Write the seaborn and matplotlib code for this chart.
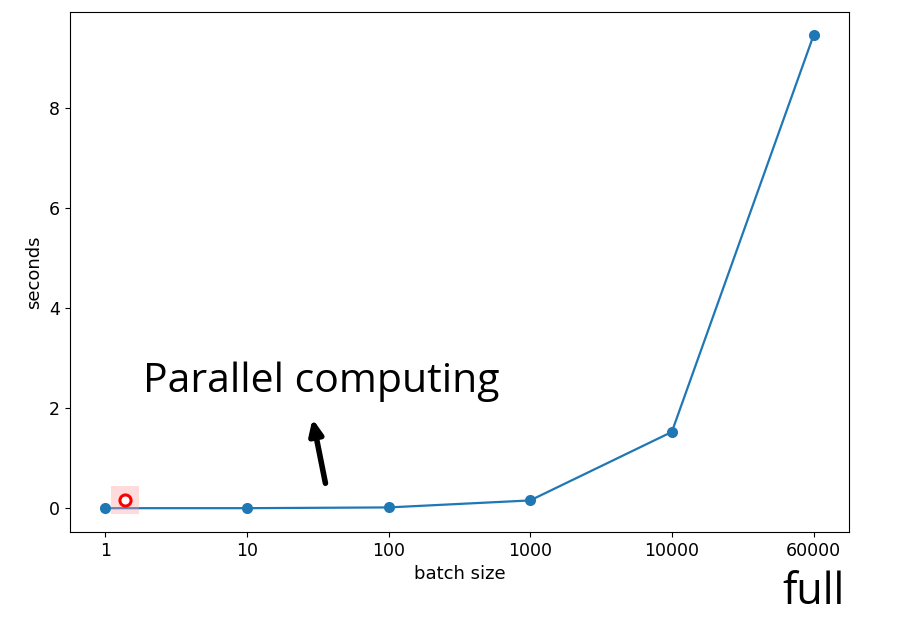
import matplotlib
matplotlib.use("Agg")
import matplotlib.pyplot as plt
import seaborn as sns
import pandas as pd

# --- Data ---
batch_sizes = ["1", "10", "100", "1000", "10000", "60000"]
seconds = [0.005, 0.005, 0.02, 0.16, 1.53, 9.46]

df = pd.DataFrame({"pos": range(len(batch_sizes)), "seconds": seconds})

fig = plt.figure(figsize=(9.06, 6.22), dpi=100)
ax = fig.add_axes([0.077, 0.145, 0.86, 0.836])

sns.lineplot(
    data=df, x="pos", y="seconds", marker="o", markersize=8,
    markeredgewidth=0, color="#1f77b4", linewidth=1.6, ax=ax,
)

ax.set_xticks(df["pos"])
ax.set_xticklabels(batch_sizes)
ax.set_xlabel("batch size", fontsize=13)
ax.set_ylabel("seconds", fontsize=13)
ax.tick_params(labelsize=12.5)

# cursor highlight near the first point
ax.plot(0.14, 0.16, marker="s", markersize=20, color="#ff9999", alpha=0.35,
        markeredgewidth=0)
ax.plot(0.14, 0.16, marker="o", markersize=8, markerfacecolor="white",
        markeredgecolor="red", markeredgewidth=2.2)

# overlay annotations
fig.text(0.158, 0.370, "Parallel computing", fontsize=29.5, family="Open Sans",
         color="black", va="baseline")
fig.text(0.864, 0.012, "full", fontsize=31, family="Open Sans", color="black",
         va="bottom")
ax.annotate("", xy=(312 / 906, 1 - 416 / 622), xycoords="figure fraction",
            xytext=(326 / 906, 1 - 486 / 622), textcoords="figure fraction",
            arrowprops=dict(arrowstyle="-|>,head_length=0.9,head_width=0.4",
                            color="black", lw=4))

fig.savefig("out.png", dpi=100)
